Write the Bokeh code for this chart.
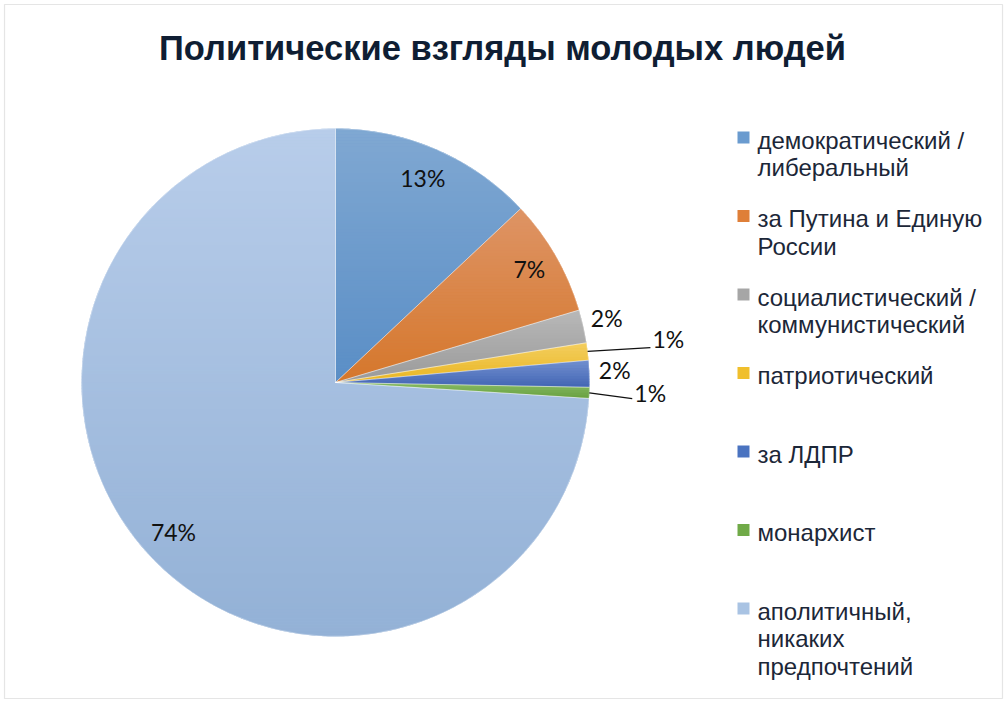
import math
from bokeh.plotting import figure
from bokeh.models import Range1d, ColumnDataSource, BoxAnnotation
from bokeh.core.properties import value
from bokeh.embed import file_html
from bokeh.resources import INLINE

# ---------------- data ----------------
title_text = "Политические взгляды молодых людей"
categories = [
    "демократический / либеральный",
    "за Путина и Единую Россию",
    "социалистический / коммунистический",
    "патриотический",
    "за ЛДПР",
    "монархист",
    "аполитичный, никаких предпочтений",
]
legend_lines = [
    ["демократический /", "либеральный"],
    ["за Путина и Единую", "России"],
    ["социалистический /", "коммунистический"],
    ["патриотический"],
    ["за ЛДПР"],
    ["монархист"],
    ["аполитичный,", "никаких", "предпочтений"],
]
values = [13.0, 7.4, 2.1, 1.1, 1.7, 0.7, 74.0]

# ---------------- style ----------------
colors = ["#6a9bcf", "#df7f38", "#a6a6a6", "#f0bf2c", "#4a73c0", "#70aa48", "#a9c3e3"]
colors_top = ["#80a8d2", "#de9466", "#b8b8b8", "#f4cf60", "#7290d0", "#88ba66", "#b8cdea"]
colors_bottom = ["#5a8ec6", "#d5772b", "#9a9a9a", "#e9b522", "#4366b4", "#68a13f", "#93b1d6"]

# ---------------- layout ----------------
W, H = 1004, 700
CX, CY, R = 335, 702 - 382, 254
label_r = [0.865, 0.88, 1.095, 1.32, 1.10, 1.24, 0.875]
label_lift = 2.5
leader_gap = 18
legend_x_sq, legend_x_txt = 743, 757
legend_y0, legend_step, line_step = 137, 78.5, 27.5
BAND = 3.0  # px height of gradient bands


def hexrgb(h):
    h = h.lstrip("#")
    return [int(h[i:i + 2], 16) for i in (0, 2, 4)]


def mix(c0, c1, t):
    a, b = hexrgb(c0), hexrgb(c1)
    return "#%02x%02x%02x" % tuple(int(round(a[k] + (b[k] - a[k]) * t)) for k in range(3))


def clip(poly, y0, keep_above):
    out = []
    n = len(poly)
    for i in range(n):
        cur, prev = poly[i], poly[i - 1]
        cin = cur[1] >= y0 if keep_above else cur[1] <= y0
        pin = prev[1] >= y0 if keep_above else prev[1] <= y0
        if cin != pin:
            t = (y0 - prev[1]) / (cur[1] - prev[1])
            out.append((prev[0] + t * (cur[0] - prev[0]), y0))
        if cin:
            out.append(cur)
    return out


p = figure(width=W, height=H, x_range=Range1d(0, W), y_range=Range1d(702 - H, 702),
           output_backend="svg", toolbar_location=None, min_border=0,
           x_axis_type=None, y_axis_type=None)
p.grid.visible = False
p.outline_line_color = None
p.background_fill_color = "white"
p.border_fill_color = "white"
p.add_layout(BoxAnnotation(left=4, right=1002, bottom=702 - 698, top=702 - 4,
                           fill_color=None, line_color="#a8a8a8", line_width=1.2))

total = sum(values)
starts, ends, mids, spans = [], [], [], []
acc = 0.0
for v in values:
    t0 = acc / total * 360.0
    acc += v
    t1 = acc / total * 360.0
    starts.append(math.radians(90 - t0))
    ends.append(math.radians(90 - t1))
    mids.append(math.radians((t0 + t1) / 2))
    spans.append((t0, t1))

src = ColumnDataSource(dict(start=starts, end=ends, color=colors, cat=categories, val=values))
p.wedge(x=CX, y=CY, radius=R, start_angle="start", end_angle="end", direction="clock",
        fill_color="color", line_color=None, source=src)

# vertical gradient shading of each slice (as in the original's gradient fill)
gx, gy, gc = [], [], []
for (t0, t1), ct, cb in zip(spans, colors_top, colors_bottom):
    n = max(3, int((t1 - t0) * 2))
    poly = [(CX, CY)]
    for k in range(n + 1):
        a = math.radians(t0 + (t1 - t0) * k / n)
        poly.append((CX + R * math.sin(a), CY + R * math.cos(a)))
    ys = [q[1] for q in poly]
    ylo, yhi = min(ys), max(ys)
    nb = max(1, int(math.ceil((yhi - ylo) / BAND)))
    for b in range(nb):
        btop = yhi - b * (yhi - ylo) / nb
        bbot = yhi - (b + 1) * (yhi - ylo) / nb
        piece = clip(clip(poly, bbot - 0.3, True), btop + 0.3, False)
        if len(piece) < 3:
            continue
        gx.append([q[0] for q in piece])
        gy.append([q[1] for q in piece])
        gc.append(mix(ct, cb, (b + 0.5) / nb))
p.patches(xs=gx, ys=gy, fill_color=gc, line_color=None)
p.wedge(x=CX, y=CY, radius=R, start_angle="start", end_angle="end", direction="clock",
        fill_color=None, line_color="white", line_width=0.6, line_alpha=0.55, source=src)

# data labels
lx, ly, ltxt = [], [], []
sx0, sy0, sx1, sy1 = [], [], [], []
for v, m, f in zip(values, mids, label_r):
    lx.append(CX + R * f * math.sin(m))
    ly.append(CY + R * f * math.cos(m) + label_lift)
    ltxt.append(f"{round(v / total * 100)}%")
    if f > 1.2:
        sx0.append(CX + R * math.sin(m)); sy0.append(CY + R * math.cos(m))
        rr = R * f - leader_gap
        sx1.append(CX + rr * math.sin(m)); sy1.append(CY + rr * math.cos(m) - 4)
p.text(x=lx, y=ly, text=ltxt, text_align="center", text_baseline="middle",
       text_font=value("Lato"), text_font_size="23px", text_color="#111111")
p.segment(x0=sx0, y0=sy0, x1=sx1, y1=sy1, line_color="#111111", line_width=1.3)

# title
p.text(x=[502], y=[702 - 47], text=[title_text], text_align="center", text_baseline="middle",
       text_font=value("Liberation Sans"), text_font_style="bold", text_font_size="34.5px",
       text_color="#0f1e33")

# legend
sq_y, tx, ty, tt = [], [], [], []
for i, lines in enumerate(legend_lines):
    yc = legend_y0 + i * legend_step
    sq_y.append(702 - yc)
    for j, ln in enumerate(lines):
        tx.append(legend_x_txt)
        ty.append(702 - (yc + 2.5 + j * line_step))
        tt.append(ln)
p.rect(x=[legend_x_sq] * len(sq_y), y=sq_y, width=12, height=12, fill_color=colors,
       line_color=None)
p.text(x=tx, y=ty, text=tt, text_align="left", text_baseline="middle",
       text_font=value("Liberation Sans"), text_font_size="24px", text_color="#1c2738")

open("out.html", "w").write(file_html(p, INLINE))
